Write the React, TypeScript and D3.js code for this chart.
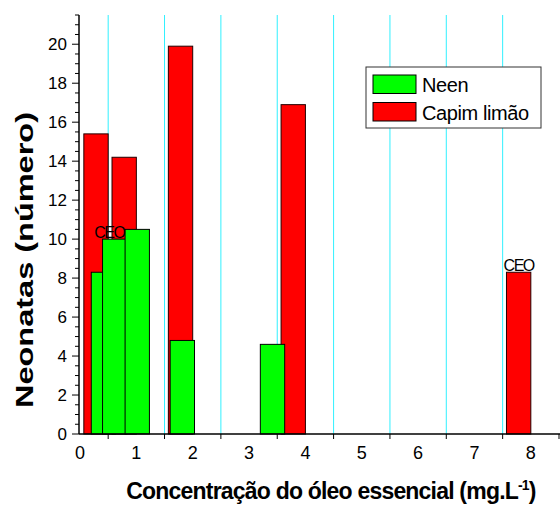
import React, { useEffect, useRef } from "react";
import * as d3 from "d3";

// concentrations (mg/L) and number of neonates
const neenConc = [0.2, 0.4, 0.8, 1.6, 3.2];
const neenValues = [8.3, 10.0, 10.5, 4.8, 4.6];
const capimConc = [0.5, 1, 2, 4, 8];
const capimValues = [15.4, 14.2, 19.9, 16.9, 8.3];

const xTickLabels = [0, 1, 2, 3, 4, 5, 6, 7, 8];
const yTickLabels = [0, 2, 4, 6, 8, 10, 12, 14, 16, 18, 20];

// "CEO" annotations (x in mg/L, y = bar height)
const ceoX = [0.52, 7.785];
const ceoY = [10.0, 8.3];

const W = 560;
const H = 507;
const FONT = "'Liberation Sans', Arial, Helvetica, sans-serif";

const App = () => {
  const svgRef = useRef(null);

  useEffect(() => {
    const svg = d3.select(svgRef.current);
    svg.selectAll("*").remove();

    const x = d3.scaleLinear().domain([0, 8.5]).range([80, 559]);
    const y = d3.scaleLinear().domain([0, 21.5]).range([434, 15]);
    const barW = x(0.432) - x(0);

    // cyan grid lines at the half steps
    const grid = d3.range(0.5, 8, 1);
    svg
      .append("g")
      .selectAll("line")
      .data(grid)
      .join("line")
      .attr("x1", (d) => x(d))
      .attr("x2", (d) => x(d))
      .attr("y1", y(21.5))
      .attr("y2", y(0))
      .attr("stroke", "#30f0ff")
      .attr("stroke-width", 1);

    // Capim limao bars (right aligned)
    svg
      .append("g")
      .selectAll("rect")
      .data(capimConc)
      .join("rect")
      .attr("x", (d) => x(d) - barW)
      .attr("y", (d, i) => y(capimValues[i]))
      .attr("width", barW)
      .attr("height", (d, i) => y(0) - y(capimValues[i]))
      .attr("fill", "#ff0000")
      .attr("stroke", "#200")
      .attr("stroke-width", 1);

    // Neen bars (left aligned)
    svg
      .append("g")
      .selectAll("rect")
      .data(neenConc)
      .join("rect")
      .attr("x", (d) => x(d))
      .attr("y", (d, i) => y(neenValues[i]))
      .attr("width", barW)
      .attr("height", (d, i) => y(0) - y(neenValues[i]))
      .attr("fill", "#00ff00")
      .attr("stroke", "#000")
      .attr("stroke-width", 1);

    // CEO labels
    svg
      .append("g")
      .selectAll("text")
      .data(ceoX)
      .join("text")
      .attr("x", (d) => x(d))
      .attr("y", (d, i) => y(ceoY[i]) - 1)
      .attr("text-anchor", "middle")
      .attr("font-family", FONT)
      .attr("font-size", 16)
      .attr("letter-spacing", -1.5)
      .attr("fill", "#000")
      .text("CEO");

    // x axis
    const xAxis = svg.append("g").attr("transform", `translate(0,${y(0)})`);
    xAxis
      .append("line")
      .attr("x1", x(0) - 1)
      .attr("x2", W)
      .attr("stroke", "#000")
      .attr("stroke-width", 1.5);
    xAxis
      .selectAll("line.tick")
      .data(d3.range(0.5, 9, 1))
      .join("line")
      .attr("class", "tick")
      .attr("x1", (d) => x(d))
      .attr("x2", (d) => x(d))
      .attr("y1", 0)
      .attr("y2", 5)
      .attr("stroke", "#000");
    xAxis
      .selectAll("text")
      .data(xTickLabels)
      .join("text")
      .attr("x", (d) => x(d))
      .attr("y", 25)
      .attr("text-anchor", "middle")
      .attr("font-family", FONT)
      .attr("font-size", 18)
      .text((d) => d);

    // y axis
    const yAxis = svg.append("g").attr("transform", `translate(${x(0) - 1},0)`);
    yAxis
      .append("line")
      .attr("y1", y(21.5))
      .attr("y2", y(0))
      .attr("stroke", "#000")
      .attr("stroke-width", 1.5);
    yAxis
      .selectAll("line.minor")
      .data(d3.range(0, 21.6, 0.5))
      .join("line")
      .attr("class", "minor")
      .attr("x1", (d) => (d % 2 === 0 ? -7 : -4))
      .attr("x2", 0)
      .attr("y1", (d) => y(d))
      .attr("y2", (d) => y(d))
      .attr("stroke", "#000");
    yAxis
      .selectAll("text")
      .data(yTickLabels)
      .join("text")
      .attr("x", -12)
      .attr("y", (d) => y(d) + 6)
      .attr("text-anchor", "end")
      .attr("font-family", FONT)
      .attr("font-size", 17)
      .text((d) => d);

    // axis titles
    const xTitle = svg
      .append("text")
      .attr("x", 331)
      .attr("y", 499)
      .attr("text-anchor", "middle")
      .attr("font-family", FONT)
      .attr("font-size", 23)
      .attr("font-weight", "bold")
      .attr("letter-spacing", -0.8);
    xTitle.append("tspan").text("Concentração do óleo essencial (mg.L");
    xTitle
      .append("tspan")
      .attr("dy", -9)
      .attr("font-size", 14)
      .text("-1");
    xTitle.append("tspan").attr("dy", 9).text(")");

    svg
      .append("text")
      .attr("transform", `translate(33,260) rotate(-90)`)
      .attr("text-anchor", "middle")
      .attr("font-family", FONT)
      .attr("font-size", 24)
      .attr("font-weight", "bold")
      .attr("textLength", 296)
      .attr("lengthAdjust", "spacingAndGlyphs")
      .text("Neonatas (número)");

    // legend
    const legend = svg.append("g").attr("transform", "translate(366,67)");
    legend
      .append("rect")
      .attr("width", 175)
      .attr("height", 61)
      .attr("fill", "#fff")
      .attr("stroke", "#333")
      .attr("stroke-width", 1);
    const items = [
      { name: "Neen", color: "#00ff00" },
      { name: "Capim limão", color: "#ff0000" },
    ];
    const row = legend
      .selectAll("g.item")
      .data(items)
      .join("g")
      .attr("class", "item")
      .attr("transform", (d, i) => `translate(7,${8 + i * 27.5})`);
    row
      .append("rect")
      .attr("width", 43)
      .attr("height", 18.5)
      .attr("fill", (d) => d.color)
      .attr("stroke", "#000");
    row
      .append("text")
      .attr("x", 49)
      .attr("y", 17)
      .attr("font-family", FONT)
      .attr("font-size", 20)
      .attr("letter-spacing", -0.4)
      .text((d) => d.name);
  }, []);

  return (
    <svg
      ref={svgRef}
      width={W}
      height={H}
      style={{ position: "absolute", left: 0, top: 0, background: "#fff" }}
    />
  );
};

export default App;
